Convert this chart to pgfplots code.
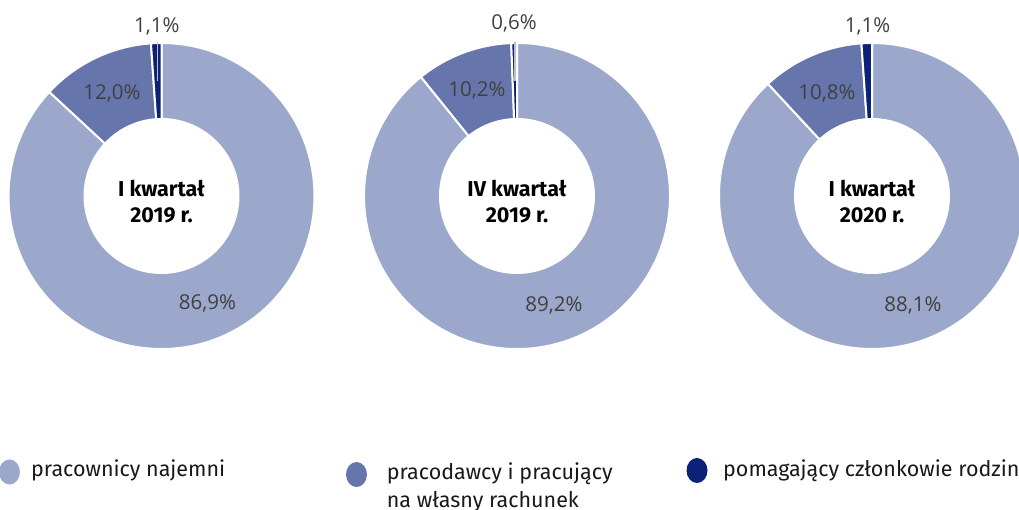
\documentclass[border=0pt]{standalone}
\usepackage{fontspec}
\setmainfont{Fira Sans}
\newfontfamily\pctfont{Open Sans}
\usepackage{pgfplots}
\usepackage{pgfplotstable}
\pgfplotsset{compat=1.18}
\definecolor{cA}{HTML}{9BA8CB}
\definecolor{cB}{HTML}{6676AD}
\definecolor{cC}{HTML}{0B2277}
\definecolor{lbl}{HTML}{404040}
\definecolor{lead}{HTML}{BFBFBF}

% shares of the three groups in each quarter (cx = horizontal position of the ring)
\pgfplotstableread{
cx    a     b     c
161.5 86.9  12.0  1.1
517   89.2  10.2  0.6
872   88.1  10.8  1.1
}\shares

\newcommand\ring[4]{% colour, start angle, end angle, cx
  \fill[#1, draw=white, line width=2bp] (axis cs:#4,314) ++({#2}:153bp)
    arc[start angle={#2}, end angle={#3}, radius=153bp]
    -- ++({#3}:-76bp)
    arc[start angle={#3}, end angle={#2}, radius=77bp] -- cycle;
}
\newcommand\donut[4]{% cx, a, b, c
  \ring{cA}{90}{90-#2*3.6}{#1}
  \ring{cB}{90-#2*3.6}{90-(#2+#3)*3.6}{#1}
  \ring{cC}{90-(#2+#3)*3.6}{-270}{#1}
}
\newcommand\pct{\pctfont\fontsize{20.5bp}{24bp}\selectfont\color{lbl}}
\newcommand\ttl{\fontsize{21.5bp}{25bp}\selectfont\bfseries}
\newcommand\leg{\fontsize{21.5bp}{25bp}\selectfont\color{black!90}}

\begin{document}
\begin{tikzpicture}
\useasboundingbox (0,0) rectangle (1019bp,510bp);
\clip (0,0) rectangle (1019bp,510bp);
\begin{axis}[x=1bp, y=1bp, xmin=0, xmax=1019, ymin=0, ymax=510,
  hide axis, anchor=south west, at={(0,0)}, clip=false]
\pgfplotsforeachungrouped \i in {0,1,2}{%
  \pgfplotstablegetelem{\i}{cx}\of\shares \let\vcx\pgfplotsretval
  \pgfplotstablegetelem{\i}{a}\of\shares \let\va\pgfplotsretval
  \pgfplotstablegetelem{\i}{b}\of\shares \let\vb\pgfplotsretval
  \pgfplotstablegetelem{\i}{c}\of\shares \let\vc\pgfplotsretval
  \edef\temp{\noexpand\donut{\vcx}{\va}{\vb}{\vc}}\temp
}
% leader lines
\draw[lead, line width=1.5bp] (axis cs:157.5,468) -- (axis cs:157.5,429);
\draw[lead, line width=1.5bp] (axis cs:515,468) -- (axis cs:515,429);
% percentage labels
\node[anchor=base, inner sep=0] at (axis cs:156.7,477) {\pct 1,1\%};
\node[anchor=base, inner sep=0] at (axis cs:112,410) {\pct 12,0\%};
\node[anchor=base, inner sep=0] at (axis cs:207.5,200) {\pct 86,9\%};
\node[anchor=base, inner sep=0] at (axis cs:514,480) {\pct 0,6\%};
\node[anchor=base, inner sep=0] at (axis cs:477,413) {\pct 10,2\%};
\node[anchor=base, inner sep=0] at (axis cs:554,198.5) {\pct 89,2\%};
\node[anchor=base, inner sep=0] at (axis cs:867.5,477) {\pct 1,1\%};
\node[anchor=base, inner sep=0] at (axis cs:827,410) {\pct 10,8\%};
\node[anchor=base, inner sep=0] at (axis cs:913,198.5) {\pct 88,1\%};
% centre titles
\node[anchor=base, inner sep=0] at (axis cs:161.5,313) {\ttl I kwartał};
\node[anchor=base, inner sep=0] at (axis cs:161.5,287) {\ttl 2019 r.};
\node[anchor=base, inner sep=0] at (axis cs:517,313) {\ttl IV kwartał};
\node[anchor=base, inner sep=0] at (axis cs:517,287) {\ttl 2019 r.};
\node[anchor=base, inner sep=0] at (axis cs:872,313) {\ttl I kwartał};
\node[anchor=base, inner sep=0] at (axis cs:872,287) {\ttl 2020 r.};
% legend
\fill[cA] (axis cs:9.5,38) ellipse[x radius=10.5bp, y radius=12.5bp];
\fill[cB] (axis cs:356.5,35.5) ellipse[x radius=10.5bp, y radius=12.5bp];
\fill[cC] (axis cs:697,39.5) ellipse[x radius=10.5bp, y radius=12.5bp];
\node[anchor=base west, inner sep=0] at (axis cs:31,33.3) {\leg pracownicy najemni};
\node[anchor=base west, inner sep=0] at (axis cs:386.7,30) {\leg pracodawcy i pracujący};
\node[anchor=base west, inner sep=0] at (axis cs:386.7,2) {\leg na własny rachunek};
\node[anchor=base west, inner sep=0] at (axis cs:723,33.3) {\leg pomagający członkowie rodzin};
\end{axis}
\end{tikzpicture}
\end{document}
